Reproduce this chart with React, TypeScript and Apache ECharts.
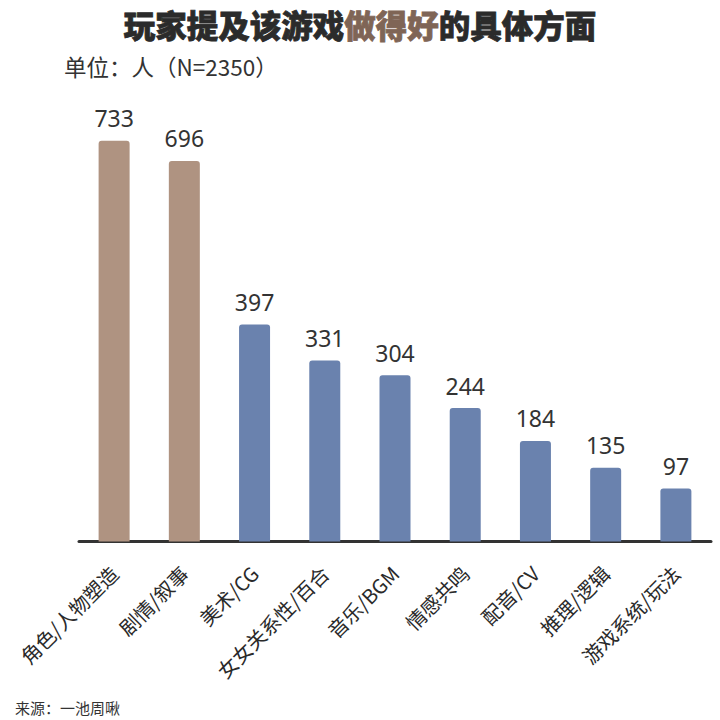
import React, { useEffect, useRef } from "react";
import * as echarts from "echarts";

const categories = ["角色/人物塑造", "剧情/叙事", "美术/CG", "女女关系性/百合", "音乐/BGM", "情感共鸣", "配音/CV", "推理/逻辑", "游戏系统/玩法"];
const values = [733, 696, 397, 331, 304, 244, 184, 135, 97];
const highlighted = [true, true, false, false, false, false, false, false, false];

const BROWN = "#af9381";
const BLUE = "#6a82ae";
const FONT = "'Noto Sans CJK SC', 'Noto Sans', sans-serif";
const NUMFONT = "'Noto Sans', 'Noto Sans CJK SC', sans-serif";

export default function App() {
  const ref = useRef<HTMLDivElement>(null);
  useEffect(() => {
    if (!ref.current) return;
    const chart = echarts.init(ref.current, null, { renderer: "svg" });
    chart.setOption({
      animation: false,
      backgroundColor: "#ffffff",
      textStyle: { fontFamily: FONT },
      title: [
        {
          text: "{a|玩家提及该游戏}{b|做得好}{a|的具体方面}",
          left: "center",
          top: 3,
          textStyle: {
            rich: {
              a: { fontSize: 31.5, fontWeight: 900, color: "#2b2b2b", fontFamily: FONT, textBorderColor: "#2b2b2b", textBorderWidth: 0.8 },
              b: { fontSize: 31.5, fontWeight: 900, color: "#7f6556", fontFamily: FONT, textBorderColor: "#7f6556", textBorderWidth: 0.8 },
            },
          },
        },
        {
          text: "单位：人（N=2350）",
          left: 59,
          top: 50,
          textStyle: { fontSize: 22.5, fontWeight: "normal", color: "#333333", fontFamily: FONT },
        },
        {
          text: "来源：一池周啾",
          left: 10,
          top: 695,
          textStyle: { fontSize: 15, fontWeight: "normal", color: "#333333", fontFamily: FONT },
        },
      ],
      grid: { left: 79, right: 9, top: 104, bottom: 178.5, containLabel: false },
      xAxis: {
        type: "category",
        data: categories,
        axisLine: { show: true, lineStyle: { color: "#333333", width: 3 } },
        axisTick: { show: false },
        axisLabel: {
          rotate: 45,
          margin: 28,
          fontSize: 20,
          color: "#2a2a2a",
          fontFamily: FONT,
          interval: 0,
        },
      },
      yAxis: {
        type: "value",
        min: 0,
        max: 800,
        show: false,
        splitLine: { show: false },
      },
      series: [
        {
          type: "bar",
          barWidth: 31,
          data: values.map((v, i) => ({
            value: v,
            itemStyle: { color: highlighted[i] ? BROWN : BLUE, borderRadius: [3, 3, 0, 0] },
          })),
          label: {
            show: true,
            position: "top",
            distance: 11,
            fontSize: 23,
            color: "#333333",
            fontFamily: NUMFONT,
          },
        },
      ],
    });
    return () => chart.dispose();
  }, []);
  return <div ref={ref} style={{ width: 720, height: 720, position: "absolute", left: 0, top: 0 }} />;
}
